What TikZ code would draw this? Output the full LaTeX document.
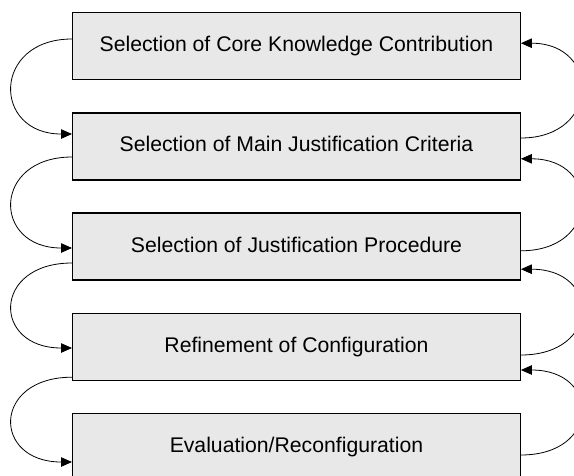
\documentclass[tikz,border=0pt]{standalone}
\usepackage{fontspec}
\setmainfont{Liberation Sans}
\usetikzlibrary{arrows.meta,calc}
\definecolor{boxfill}{HTML}{E8E8E8}
\begin{document}
\begin{tikzpicture}[x=1pt,y=-1pt,
  stage/.style={draw=black, line width=1.4pt, fill=boxfill,
    minimum width=447.5pt, minimum height=67pt, inner sep=0pt,
    text height=15pt, text depth=4pt,
    font=\fontsize{21.2}{25}\selectfont, anchor=north west},
  loop/.style={line width=0.8pt, -{Triangle[length=11pt,width=9.5pt]}}]
\useasboundingbox (0,0) rectangle (574,475);
\clip (0,0) rectangle (574,475);
\node[stage] (b1) at (72,12)    {Selection of Core Knowledge Contribution};
\node[stage] (b2) at (72,112.2) {Selection of Main Justification Criteria};
\node[stage] (b3) at (72,212.4) {Selection of Justification Procedure};
\node[stage] (b4) at (72,312.6) {Refinement of Configuration};
\node[stage] (b5) at (72,412.8) {Evaluation/Reconfiguration};
% left loops (downward)
\draw[loop] ($(b1.north west)+(0,27)$) .. controls +(-80,0) and +(-80,0) .. ($(b2.north west)+(0,21.8)$);
\draw[loop] ($(b2.north west)+(0,44.8)$) .. controls +(-80,0) and +(-80,0) .. ($(b3.north west)+(0,35.6)$);
\draw[loop] ($(b3.north west)+(0,50.6)$) .. controls +(-80,0) and +(-80,0) .. ($(b4.north west)+(0,35.4)$);
\draw[loop] ($(b4.north west)+(0,64.6)$) .. controls +(-80,0) and +(-80,0) .. ($(b5.north west)+(0,49.2)$);
% right loops (upward)
\draw[loop] ($(b2.north east)+(0,25.8)$) .. controls +(80,0) and +(80,0) .. ($(b1.north east)+(0,31.2)$);
\draw[loop] ($(b3.north east)+(0,38.4)$) .. controls +(80,0) and +(80,0) .. ($(b2.north east)+(0,46.6)$);
\draw[loop] ($(b4.north east)+(0,42.4)$) .. controls +(80,0) and +(80,0) .. ($(b3.north east)+(0,56.8)$);
\draw[loop] ($(b5.north east)+(0,42.2)$) .. controls +(80,0) and +(80,0) .. ($(b4.north east)+(0,57.4)$);
\end{tikzpicture}
\end{document}
